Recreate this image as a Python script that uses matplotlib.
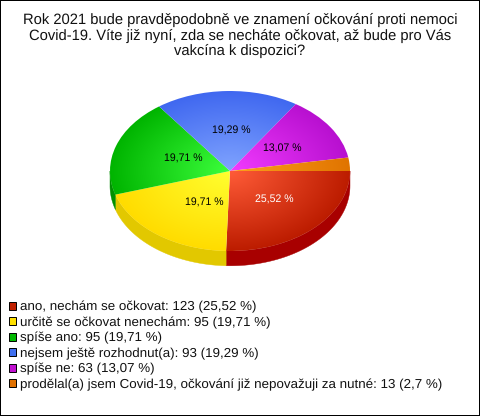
import numpy as np
import matplotlib
matplotlib.use('Agg')
import matplotlib.pyplot as plt
from matplotlib.patches import Patch, Polygon

plt.rcParams['font.family'] = ['Liberation Sans', 'DejaVu Sans']
plt.rcParams['text.hinting'] = 'no_hinting'

title = ('Rok 2021 bude pravděpodobně ve znamení očkování proti nemoci\n'
         'Covid-19. Víte již nyní, zda se necháte očkovat, až bude pro Vás\n'
         'vakcína k dispozici?')
categories = ['ano, nechám se očkovat', 'určitě se očkovat nenechám', 'spíše ano',
              'nejsem ještě rozhodnut(a)', 'spíše ne',
              'prodělal(a) jsem Covid-19, očkování již nepovažuji za nutné']
counts = [123, 95, 95, 93, 63, 13]
percents = ['25,52', '19,71', '19,71', '19,29', '13,07', '2,7']
pie_labels = ['25,52 %', '19,71 %', '19,71 %', '19,29 %', '13,07 %', '']
label_colors = ['white', 'black', 'black', 'black', 'black', 'black']

# colours: centre of slice, rim of slice, side wall, legend box
inner = ['#ff5c38', '#ffff30', '#3cff3c', '#80a4ff', '#f23cff', '#ffa01c']
outer = ['#bc1c00', '#ffdc00', '#00b400', '#4068f0', '#b810d0', '#e07400']
side = ['#a80000', '#e2c800', '#009000', '#2040b0', '#800090', '#a85000']
legend_c = ['#c02000', '#ffe000', '#00b800', '#4070f0', '#c010d0', '#e07000']

W, H = 480, 416
depth = 0.185  # wall height, in pie units

fig = plt.figure(figsize=(W / 100, H / 100), dpi=100)
fig.patch.set_facecolor('white')
fig.patch.set_edgecolor('black')
fig.patch.set_linewidth(1.44)

# axes scaled so the unit circle becomes the flattened ellipse
ax = fig.add_axes([80 / W, 1 - 287 / H, 300 / W, 216 / H])
wedges, texts = ax.pie(counts, startangle=0, counterclock=False, labels=None)[:2]
ax.set_aspect('auto')

# side wall, only the front half shows
fractions = np.array(counts) / sum(counts)
ends = np.cumsum(fractions) * 360
starts = ends - fractions * 360
for s, e, c in zip(starts, ends, side):
    a0, a1 = s, min(e, 180)
    if a0 >= 180:
        continue
    t = np.radians(np.linspace(a0, a1, 60))
    top = np.column_stack([np.cos(t), -np.sin(t)])
    bottom = top[::-1] - [0, depth]
    ax.add_patch(Polygon(np.vstack([top, bottom]), facecolor=c, edgecolor=c, lw=0.3, zorder=1))

# radial gradient on each slice, clipped to the wedge
xx, yy = np.meshgrid(np.linspace(-1, 1, 300), np.linspace(-1, 1, 300))
rr = np.clip(np.hypot(xx, yy), 0, 1)[..., None]
for w, c0, c1 in zip(wedges, inner, outer):
    w.set_facecolor('none')
    w.set_edgecolor('none')
    w.set_zorder(2)
    c0 = np.array(matplotlib.colors.to_rgb(c0))
    c1 = np.array(matplotlib.colors.to_rgb(c1))
    img = c0 + (c1 - c0) * rr
    im = ax.imshow(img, extent=[-1, 1, -1, 1], origin='lower', aspect='auto', zorder=2)
    im.set_clip_path(w)

# percent labels, the ones on the left sit a bit further in
for lab, col, s, e in zip(pie_labels, label_colors, starts, ends):
    if lab == '':
        continue
    m = np.radians((s + e) / 2)
    x = 0.5 * np.cos(m)
    if x < -0.2:
        x += 0.085
    else:
        x += 0.02
    ax.text(x, -0.5 * np.sin(m), lab, color=col, fontsize=7.6,
            ha='center', va='center', zorder=3)

ax.set_xlim(-1.25, 1.25)
ax.set_ylim(-1.45, 1.25)
ax.axis('off')

fig.text(0.5, 1 - 13 / H, title, ha='center', va='top', fontsize=10.6, color='#111111',
         linespacing=1.13)

handles = [Patch(facecolor=c, edgecolor='black', linewidth=0.7) for c in legend_c]
labels = [f'{n}: {v} ({p} %)' for n, v, p in zip(categories, counts, percents)]
fig.legend(handles, labels, loc='upper left', bbox_to_anchor=(9 / W, 1 - 301 / H),
           frameon=False, fontsize=9.6, handlelength=0.55, handleheight=0.55,
           handletextpad=0.25, labelspacing=0.24, borderpad=0, borderaxespad=0,
           labelcolor='#111111')

fig.savefig('out.png', dpi=100)
